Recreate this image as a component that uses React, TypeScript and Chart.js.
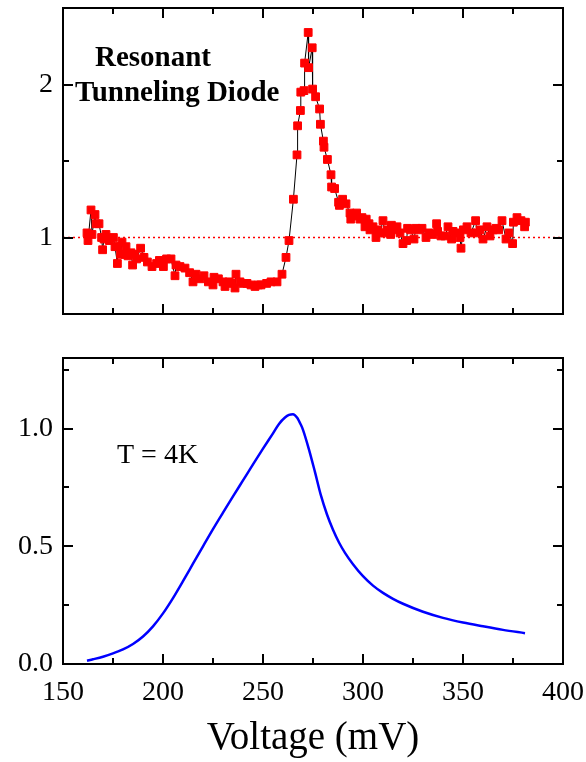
import React, { useEffect, useRef } from 'react';
import { Chart, registerables } from 'chart.js';
Chart.register(...registerables);

// ---------- data ----------
const topVoltage = [
  162.0, 162.5, 164.0, 164.5, 166.0, 166.5, 168.0, 169.3, 169.8, 170.5, 171.5, 173.2, 175.2, 176.0, 177.2, 177.5,
  178.8, 179.5, 181.0, 181.5, 182.5, 184.0, 184.8, 185.7, 186.8, 188.8, 190.5, 192.2, 194.5, 196.8, 198.2, 200.2,
  201.8, 204.0, 206.0, 206.5, 208.5, 211.0, 213.3, 215.0, 216.5, 218.5, 220.5, 222.7, 225.0, 225.5, 227.7, 230.0,
  231.0, 233.0, 234.5, 236.0, 236.5, 238.5, 240.0, 242.0, 244.0, 246.0, 247.7, 249.0, 251.8, 254.0, 257.0, 259.5,
  261.5, 263.0, 265.2, 267.0, 267.3, 268.7, 268.9, 270.5, 270.8, 272.6, 272.8, 274.6, 274.8, 276.3, 278.3, 278.7,
  280.2, 280.5, 282.2, 284.0, 284.3, 285.8, 287.8, 288.2, 289.8, 291.5, 293.5, 293.9, 295.5, 296.8, 298.5, 299.5,
  301.0, 301.6, 303.0, 303.5, 305.0, 306.5, 307.2, 308.5, 310.0, 311.0, 312.0, 313.8, 314.2, 315.5, 317.0, 318.5,
  320.0, 321.8, 322.3, 323.8, 325.5, 326.5, 328.0, 329.5, 331.5, 333.0, 335.0, 336.8, 337.3, 339.0, 341.0, 342.5,
  344.3, 345.0, 346.5, 348.5, 349.0, 350.2, 352.0, 354.0, 356.3, 357.0, 358.5, 360.0, 362.0, 363.5, 365.0, 366.5,
  367.8, 369.5, 371.5, 373.0, 374.8, 375.2, 377.0, 379.0, 380.8, 381.2,
];
const topRatio = [
  1.03, 0.98, 1.18, 1.02, 1.15, 1.09, 1.09, 1.00, 0.92, 0.99, 1.02, 0.98, 1.00, 0.94, 0.83, 0.94,
  0.89, 0.97, 0.89, 0.94, 0.88, 0.90, 0.82, 0.89, 0.86, 0.93, 0.87, 0.84, 0.81, 0.83, 0.85, 0.81,
  0.86, 0.86, 0.75, 0.82, 0.81, 0.80, 0.77, 0.71, 0.76, 0.73, 0.75, 0.71, 0.69, 0.74, 0.73, 0.71,
  0.68, 0.71, 0.70, 0.67, 0.76, 0.71, 0.70, 0.70, 0.69, 0.68, 0.69, 0.69, 0.70, 0.71, 0.71, 0.76,
  0.87, 0.98, 1.25, 1.54, 1.73, 1.83, 1.95, 1.96, 2.14, 2.34, 2.11, 2.24, 1.97, 1.92, 1.84, 1.74,
  1.63, 1.59, 1.51, 1.41, 1.33, 1.32, 1.23, 1.21, 1.25, 1.22, 1.16, 1.12, 1.14, 1.16, 1.12, 1.13,
  1.07, 1.12, 1.09, 1.05, 1.07, 1.00, 1.05, 1.03, 1.11, 1.03, 1.05, 1.02, 1.08, 1.05, 1.07, 1.03,
  0.96, 0.98, 1.06, 1.05, 0.99, 1.06, 1.05, 1.06, 1.00, 1.03, 1.02, 1.09, 1.04, 1.01, 1.01, 1.07,
  0.99, 1.04, 1.03, 1.00, 0.93, 1.05, 1.07, 1.03, 1.11, 1.03, 1.05, 0.99, 1.07, 1.01, 1.05, 1.06,
  1.05, 1.11, 0.99, 1.03, 0.96, 1.10, 1.13, 1.11, 1.07, 1.10,
];
const refLineVoltage = [150, 400];
const refLineValue = [1, 1];

const bottomVoltage = [
  162, 165, 170, 175, 180, 185, 190, 195, 200, 205, 210, 215, 220, 225, 230, 235, 240, 245, 250, 255,
  258, 261, 263, 265, 267, 269, 270, 273, 276, 279, 282, 285, 288, 291, 295, 300, 305, 310, 315, 320,
  330, 340, 350, 360, 370, 381,
];
const bottomCurrent = [
  0.014, 0.020, 0.031, 0.045, 0.062, 0.085, 0.117, 0.160, 0.215, 0.280, 0.352, 0.426, 0.500, 0.573, 0.643, 0.712,
  0.780, 0.848, 0.915, 0.980, 1.020, 1.047, 1.058, 1.061, 1.047, 1.015, 0.995, 0.911, 0.815, 0.715, 0.635, 0.570,
  0.516, 0.472, 0.424, 0.373, 0.333, 0.302, 0.277, 0.256, 0.222, 0.196, 0.176, 0.160, 0.145, 0.131,
];

const xMajorTicks = [150, 200, 250, 300, 350, 400];
const xMinorTicks = [175, 225, 275, 325, 375];
const topYMajorTicks = [1, 2];
const topYMinorTicks = [1.5];
const bottomYMajorTicks = [0, 0.5, 1.0];
const bottomYMinorTicks = [0.25, 0.75, 1.25];

const xTitle = 'Voltage (mV)';
const topLabelLines = ['Resonant', 'Tunneling Diode'];
const bottomLabel = 'T = 4K';

// ---------- styling ----------
const SERIF = '"Liberation Serif", "Times New Roman", serif';
const W = 586;
const TOP_H = 330;
const BOT_H = 432;

type TextItem = { text: string; x: number; y: number; font: string };

function framePlugin(yMajor: number[], yMinor: number[], texts: TextItem[]) {
  return {
    id: 'frameTicks',
    afterDatasetsDraw(chart: any) {
      const { ctx, chartArea: a, scales } = chart;
      const xs = scales.x;
      const ys = scales.y;
      ctx.save();
      ctx.strokeStyle = '#000';
      ctx.lineWidth = 2;
      ctx.lineCap = 'butt';
      const xt = (vals: number[], len: number) => {
        vals.forEach((v) => {
          const px = Math.round(xs.getPixelForValue(v));
          ctx.beginPath();
          ctx.moveTo(px, a.bottom);
          ctx.lineTo(px, a.bottom - len);
          ctx.moveTo(px, a.top);
          ctx.lineTo(px, a.top + len);
          ctx.stroke();
        });
      };
      const yt = (vals: number[], len: number) => {
        vals.forEach((v) => {
          const py = Math.round(ys.getPixelForValue(v));
          ctx.beginPath();
          ctx.moveTo(a.left, py);
          ctx.lineTo(a.left + len, py);
          ctx.moveTo(a.right, py);
          ctx.lineTo(a.right - len, py);
          ctx.stroke();
        });
      };
      xt(xMajorTicks, 10);
      xt(xMinorTicks, 6);
      yt(yMajor, 10);
      yt(yMinor, 6);
      ctx.strokeRect(a.left, a.top, a.right - a.left, a.bottom - a.top);
      ctx.fillStyle = '#000';
      ctx.textAlign = 'left';
      ctx.textBaseline = 'alphabetic';
      texts.forEach((t) => {
        ctx.font = t.font;
        ctx.fillText(t.text, xs.getPixelForValue(t.x), ys.getPixelForValue(t.y));
      });
      ctx.restore();
    },
  };
}

function makePoints(xs: number[], ys: number[]) {
  return xs.map((x, i) => ({ x, y: ys[i] }));
}

export default function App() {
  const topRef = useRef<HTMLCanvasElement>(null);
  const botRef = useRef<HTMLCanvasElement>(null);

  useEffect(() => {
    const topChart = new Chart(topRef.current as HTMLCanvasElement, {
      type: 'line',
      data: {
        datasets: [
          {
            data: makePoints(topVoltage, topRatio),
            borderColor: '#000',
            borderWidth: 1,
            pointStyle: 'rect',
            pointRadius: 5.5,
            pointBorderWidth: 1,
            pointBackgroundColor: '#ff0000',
            pointBorderColor: '#ff0000',
            tension: 0,
            fill: false,
          },
          {
            data: makePoints(refLineVoltage, refLineValue),
            borderColor: '#ff0000',
            borderWidth: 1.5,
            borderDash: [2, 3],
            pointRadius: 0,
            fill: false,
          },
        ],
      },
      options: {
        animation: false,
        responsive: false,
        events: [],
        layout: { padding: { left: 0, right: W - 563, top: 8, bottom: TOP_H - 314 } },
        plugins: { legend: { display: false }, tooltip: { enabled: false }, title: { display: false } },
        scales: {
          x: { type: 'linear', min: 150, max: 400, display: false },
          y: {
            type: 'linear',
            min: 0.5,
            max: 2.5,
            grid: { display: false, drawTicks: false },
            border: { display: false },
            afterBuildTicks: (s: any) => {
              s.ticks = topYMajorTicks.map((v) => ({ value: v }));
            },
            afterFit: (s: any) => {
              s.width = 63;
              s.paddingTop = 0;
              s.paddingBottom = 0;
            },
            ticks: {
              color: '#000',
              padding: 10,
              font: { family: SERIF, size: 28 },
              callback: (v: any) => String(v),
            },
          },
        },
      },
      plugins: [
        framePlugin(topYMajorTicks, topYMinorTicks, [
          { text: topLabelLines[0], x: 166, y: 2.118, font: `bold 29px ${SERIF}` },
          { text: topLabelLines[1], x: 156, y: 1.889, font: `bold 29px ${SERIF}` },
        ]),
      ],
    } as any);

    const botChart = new Chart(botRef.current as HTMLCanvasElement, {
      type: 'line',
      data: {
        datasets: [
          {
            data: makePoints(bottomVoltage, bottomCurrent),
            borderColor: '#0000ff',
            borderWidth: 2.5,
            pointRadius: 0,
            cubicInterpolationMode: 'monotone',
            fill: false,
          },
        ],
      },
      options: {
        animation: false,
        responsive: false,
        events: [],
        layout: { padding: { left: 0, right: W - 563, top: 28, bottom: 0 } },
        plugins: { legend: { display: false }, tooltip: { enabled: false }, title: { display: false } },
        scales: {
          x: {
            type: 'linear',
            min: 150,
            max: 400,
            grid: { display: false, drawTicks: false },
            border: { display: false },
            afterBuildTicks: (s: any) => {
              s.ticks = xMajorTicks.map((v) => ({ value: v }));
            },
            afterFit: (s: any) => {
              s.height = BOT_H - 334;
              s.paddingLeft = 0;
              s.paddingRight = 0;
            },
            ticks: {
              color: '#000',
              padding: 12,
              maxRotation: 0,
              font: { family: SERIF, size: 28 },
              callback: (v: any) => String(v),
            },
            title: {
              display: true,
              text: xTitle,
              color: '#000',
              font: { family: SERIF, size: 39 },
              padding: { top: 0, bottom: 0 },
            },
          },
          y: {
            type: 'linear',
            min: 0,
            max: 1.3,
            grid: { display: false, drawTicks: false },
            border: { display: false },
            afterBuildTicks: (s: any) => {
              s.ticks = bottomYMajorTicks.map((v) => ({ value: v }));
            },
            afterFit: (s: any) => {
              s.width = 63;
              s.paddingTop = 0;
              s.paddingBottom = 0;
            },
            ticks: {
              color: '#000',
              padding: 10,
              font: { family: SERIF, size: 28 },
              callback: (v: any) => Number(v).toFixed(1),
            },
          },
        },
      },
      plugins: [
        framePlugin(bottomYMajorTicks, bottomYMinorTicks, [
          { text: bottomLabel, x: 177, y: 0.855, font: `28px ${SERIF}` },
        ]),
      ],
    } as any);

    return () => {
      topChart.destroy();
      botChart.destroy();
    };
  }, []);

  return (
    <div style={{ position: 'absolute', left: 0, top: 0, width: W, height: TOP_H + BOT_H, background: '#fff' }}>
      <canvas ref={topRef} width={W} height={TOP_H} style={{ display: 'block', width: W, height: TOP_H }} />
      <canvas ref={botRef} width={W} height={BOT_H} style={{ display: 'block', width: W, height: BOT_H }} />
    </div>
  );
}
